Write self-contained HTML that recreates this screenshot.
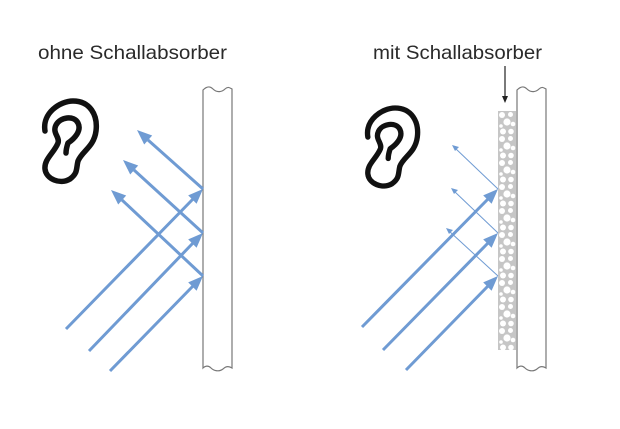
<!DOCTYPE html>
<html><head><meta charset="utf-8"><style>
html,body{margin:0;padding:0;background:#fff;}
svg{display:block;}
text{font-family:"Liberation Sans",sans-serif;fill:#2a2a2a;}
</style></head><body>
<svg width="620" height="429" viewBox="0 0 620 429" xmlns="http://www.w3.org/2000/svg">
<defs>
<g id="ear">
<path d="M5,30 C2,12 20,0 33,0 C50,0 58,14 56,30 C54,46 42,50 38,60 C36,68 38,72 30,78 C20,84 6,78 5,68 C4,58 14,52 18,42 C20,36 12,32 16,24 C20,16 34,14 38,22 C42,30 34,38 28,42 C26,48 26,50 26,52" fill="none" stroke="#111" stroke-width="5.5" stroke-linecap="round" stroke-linejoin="round"/>
</g>
<pattern id="foam" width="18" height="24" patternUnits="userSpaceOnUse" x="498" y="111">
<rect width="18" height="24" fill="#c6c6c6"/>
<circle cx="4" cy="4" r="3" fill="#fff"/><circle cx="12.5" cy="3.5" r="2.5" fill="#fff"/>
<circle cx="9" cy="11" r="3.6" fill="#fff"/><circle cx="3" cy="15" r="1.8" fill="#fff"/>
<circle cx="15" cy="13" r="2.3" fill="#fff"/><circle cx="5" cy="20.5" r="3" fill="#fff"/>
<circle cx="13" cy="20.5" r="2.8" fill="#fff"/>
</pattern>
</defs>

<text x="38" y="59" font-size="19.5" textLength="189" lengthAdjust="spacingAndGlyphs">ohne Schallabsorber</text>
<text x="373" y="59" font-size="19.5" textLength="169" lengthAdjust="spacingAndGlyphs">mit Schallabsorber</text>

<path d="M203,90 C207,86 210,86 213,89 C217,93 222,92 225,89 C228,86 230,88 232,89 L232,368 C229,366 226,366 223,369 C219,372 214,371 211,368 C208,365 205,366 203,368 Z" fill="#fff" stroke="#777" stroke-width="1.2"/>
<path d="M517,90 C521,86 524,86 527,89 C531,93 536,92 539,89 C542,86 544,88 546,89 L546,368 C543,366 540,366 537,369 C533,372 528,371 525,368 C522,365 519,366 517,368 Z" fill="#fff" stroke="#777" stroke-width="1.2"/>

<rect x="498" y="111" width="18" height="239" fill="url(#foam)"/>
<line x1="505" y1="66" x2="505" y2="98" stroke="#222" stroke-width="1.2"/>
<path d="M502,96 L505,103 L508,96 Z" fill="#222"/>

<use href="#ear" transform="translate(40,101)"/>
<use href="#ear" transform="translate(363,108) scale(0.97)"/>

<g stroke="#6f9bd3" stroke-width="3">
<line x1="66" y1="329" x2="193" y2="199"/>
<line x1="89" y1="351" x2="193" y2="243"/>
<line x1="110" y1="371" x2="193" y2="286"/>
<line x1="203" y1="189" x2="148" y2="140"/>
<line x1="203" y1="233" x2="134" y2="170"/>
<line x1="203" y1="276" x2="122" y2="200"/>
<line x1="362" y1="327" x2="488" y2="199"/>
<line x1="383" y1="350" x2="488" y2="243"/>
<line x1="406" y1="370" x2="488" y2="286"/>
</g>
<g fill="#6f9bd3">
<path d="M203,189 L188.2,195.4 L196.6,203.8 Z"/>
<path d="M203,233 L188.2,239.4 L196.6,247.8 Z"/>
<path d="M203,276 L188.2,282.4 L196.6,290.8 Z"/>
<path d="M137,130 L152.2,135.5 L144.2,144.5 Z"/>
<path d="M123,160 L138.2,165.5 L130.2,174.5 Z"/>
<path d="M111,190 L126.2,195.5 L118.2,204.5 Z"/>
<path d="M498,189 L483.2,195.4 L491.6,203.8 Z"/>
<path d="M498,233 L483.2,239.4 L491.6,247.8 Z"/>
<path d="M498,276 L483.2,282.4 L491.6,290.8 Z"/>
<path d="M452,145 L459,147 L455,151 Z"/>
<path d="M451,188 L458,190 L454,194 Z"/>
<path d="M446,228 L453,230 L449,234 Z"/>
</g>
<g stroke="#6f9bd3" stroke-width="1">
<line x1="498" y1="189" x2="455" y2="148"/>
<line x1="498" y1="233" x2="454" y2="191"/>
<line x1="498" y1="276" x2="449" y2="231"/>
</g>
</svg>
</body></html>
